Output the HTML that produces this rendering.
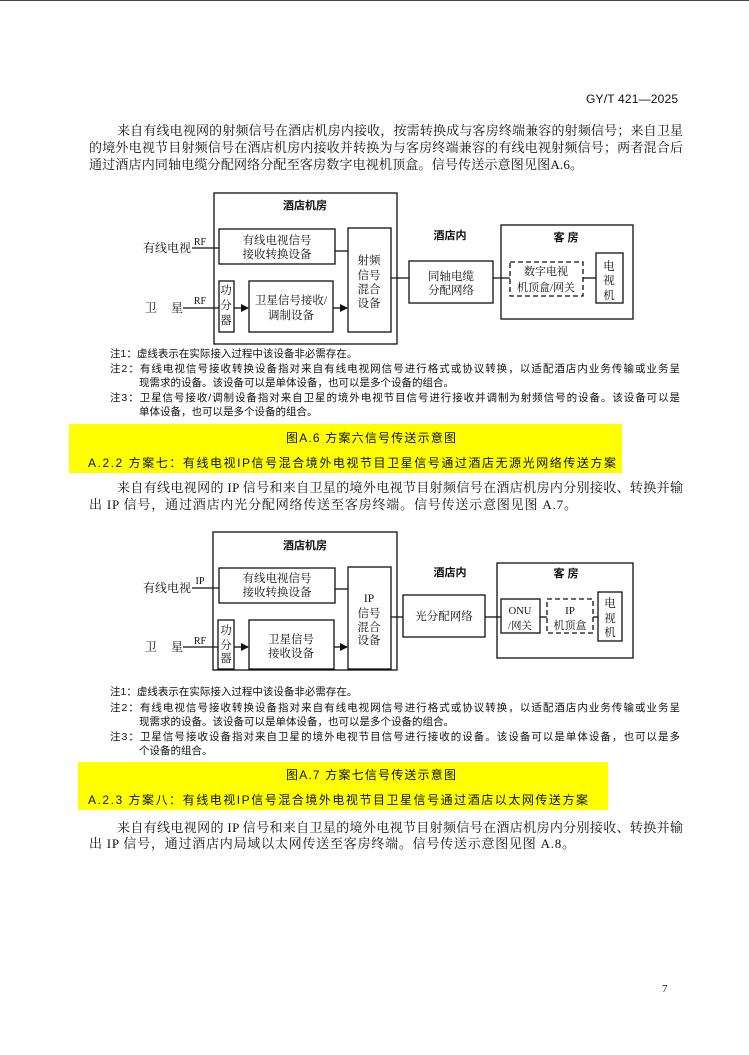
<!DOCTYPE html>
<html><head><meta charset="utf-8"><style>
html,body{margin:0;padding:0;background:#fff;}
svg{display:block;}
.s{font-family:"Liberation Serif","Noto Serif CJK SC",serif;fill:#111;}
.h{font-family:"Liberation Sans","Noto Sans CJK SC",sans-serif;fill:#111;}
.b{font-family:"Liberation Sans","Noto Sans CJK SC",sans-serif;font-weight:bold;fill:#111;}
</style></head><body>
<svg width="749" height="1055" viewBox="0 0 749 1055" xmlns="http://www.w3.org/2000/svg">
<defs><marker id="ar" markerWidth="8" markerHeight="8" refX="7" refY="4" orient="auto" markerUnits="userSpaceOnUse"><path d="M0,0 L8,4 L0,8 z" fill="#111"/></marker></defs>
<line x1="0" y1="0.5" x2="749" y2="0.5" stroke="#444" stroke-width="1"/>
<text class="h" x="586" y="103" font-size="12" textLength="92">GY/T 421—2025</text>

<g class="s" font-size="13">
<text x="117" y="135" textLength="566">来自有线电视网的射频信号在酒店机房内接收，按需转换成与客房终端兼容的射频信号；来自卫星</text>
<text x="89" y="152" textLength="594">的境外电视节目射频信号在酒店机房内接收并转换为与客房终端兼容的有线电视射频信号；两者混合后</text>
<text x="89" y="169" textLength="494">通过酒店内同轴电缆分配网络分配至客房数字电视机顶盒。信号传送示意图见图A.6。</text>
</g>

<!-- Diagram 1 -->
<g fill="none" stroke="#111" stroke-width="1.3">
<rect x="214" y="193" width="183" height="151"/>
<rect x="219" y="229" width="116" height="35"/>
<rect x="348" y="228" width="43" height="104"/>
<rect x="219" y="281" width="15" height="51"/>
<rect x="249" y="281" width="84" height="51"/>
<rect x="409" y="261" width="84" height="42"/>
<rect x="501" y="225" width="132" height="94"/>
<rect x="510" y="262" width="73" height="34" stroke-dasharray="5,3"/>
<rect x="596" y="253" width="27" height="50"/>
<line x1="192" y1="248" x2="219" y2="248"/>
<line x1="183" y1="308" x2="219" y2="308"/>
<line x1="234" y1="308" x2="248" y2="308" marker-end="url(#ar)"/>
<line x1="333" y1="308" x2="347" y2="308" marker-end="url(#ar)"/>
<line x1="335" y1="251" x2="348" y2="251"/>
<line x1="391" y1="278" x2="409" y2="278"/>
<line x1="493" y1="278" x2="510" y2="278"/>
<line x1="583" y1="278" x2="596" y2="278"/>
</g>
<g class="s" font-size="11.5" text-anchor="middle">
<text x="167" y="252" font-size="12">有线电视</text>
<text x="200" y="245" font-size="10">RF</text>
<text x="151" y="312" font-size="12">卫</text><text x="177" y="312" font-size="12">星</text>
<text x="200" y="304" font-size="10">RF</text>
<text x="277" y="244">有线电视信号</text>
<text x="277" y="258">接收转换设备</text>
<text x="369" y="264">射频</text><text x="369" y="279">信号</text><text x="369" y="293">混合</text><text x="369" y="307">设备</text>
<text x="226" y="294">功</text><text x="226" y="309">分</text><text x="226" y="324">器</text>
<text x="291" y="304">卫星信号接收/</text>
<text x="291" y="319">调制设备</text>
<text x="451" y="280">同轴电缆</text>
<text x="451" y="294">分配网络</text>
<text x="546" y="275" font-size="11">数字电视</text>
<text x="546" y="291" font-size="11">机顶盒/网关</text>
<text x="609" y="270">电</text><text x="609" y="284">视</text><text x="609" y="299">机</text>
</g>
<g class="b" font-size="11" text-anchor="middle">
<text x="305" y="209">酒店机房</text>
<text x="450" y="239">酒店内</text>
<text x="566" y="241">客 房</text>
</g>

<g class="h" font-size="10.5">
<text x="110" y="357">注1：虚线表示在实际接入过程中该设备非必需存在。</text>
<text x="110" y="372" textLength="570">注2：有线电视信号接收转换设备指对来自有线电视网信号进行格式或协议转换，以适配酒店内业务传输或业务呈</text>
<text x="139" y="386">现需求的设备。该设备可以是单体设备，也可以是多个设备的组合。</text>
<text x="110" y="401" textLength="570">注3：卫星信号接收/调制设备指对来自卫星的境外电视节目信号进行接收并调制为射频信号的设备。该设备可以是</text>
<text x="139" y="415">单体设备，也可以是多个设备的组合。</text>
</g>

<rect x="69" y="424" width="553" height="49" fill="#ffff00"/>
<text class="h" x="286" y="442" font-size="12" textLength="170">图A.6  方案六信号传送示意图</text>
<text class="h" x="88" y="467" font-size="12" textLength="528">A.2.2  方案七：有线电视IP信号混合境外电视节目卫星信号通过酒店无源光网络传送方案</text>

<g class="s" font-size="13">
<text x="117" y="492" textLength="566">来自有线电视网的 IP 信号和来自卫星的境外电视节目射频信号在酒店机房内分别接收、转换并输</text>
<text x="89" y="509" textLength="488">出 IP 信号，通过酒店内光分配网络传送至客房终端。信号传送示意图见图 A.7。</text>
</g>

<!-- Diagram 2 -->
<g fill="none" stroke="#111" stroke-width="1.3">
<rect x="213" y="532" width="184" height="138"/>
<rect x="219" y="568" width="116" height="35"/>
<rect x="348" y="567" width="43" height="102"/>
<rect x="218" y="620" width="16" height="49"/>
<rect x="249" y="620" width="85" height="49"/>
<rect x="403" y="595" width="82" height="42"/>
<rect x="497" y="563" width="136" height="95"/>
<rect x="501" y="599" width="39" height="34"/>
<rect x="547" y="599" width="46" height="34" stroke-dasharray="5,3"/>
<rect x="598" y="592" width="24" height="49"/>
<line x1="192" y1="588" x2="219" y2="588"/>
<line x1="183" y1="647" x2="218" y2="647"/>
<line x1="234" y1="647" x2="248" y2="647" marker-end="url(#ar)"/>
<line x1="334" y1="647" x2="347" y2="647" marker-end="url(#ar)"/>
<line x1="335" y1="589" x2="348" y2="589"/>
<line x1="391" y1="617" x2="403" y2="617"/>
<line x1="485" y1="617" x2="501" y2="617"/>
<line x1="540" y1="617" x2="547" y2="617"/>
<line x1="593" y1="617" x2="598" y2="617"/>
</g>
<g class="s" font-size="11.5" text-anchor="middle">
<text x="167" y="592" font-size="12">有线电视</text>
<text x="200" y="584" font-size="10">IP</text>
<text x="151" y="651" font-size="12">卫</text><text x="177" y="651" font-size="12">星</text>
<text x="200" y="644" font-size="10">RF</text>
<text x="277" y="582">有线电视信号</text>
<text x="277" y="596">接收转换设备</text>
<text x="369" y="602">IP</text><text x="369" y="617">信号</text><text x="369" y="631">混合</text><text x="369" y="644">设备</text>
<text x="226" y="634">功</text><text x="226" y="649">分</text><text x="226" y="662">器</text>
<text x="291" y="643">卫星信号</text>
<text x="291" y="657">接收设备</text>
<text x="444" y="620">光分配网络</text>
<text x="520" y="614" font-size="10.5">ONU</text>
<text x="520" y="629" font-size="10.5">/网关</text>
<text x="570" y="614" font-size="11">IP</text>
<text x="570" y="629" font-size="11">机顶盒</text>
<text x="610" y="607">电</text><text x="610" y="622">视</text><text x="610" y="636">机</text>
</g>
<g class="b" font-size="11" text-anchor="middle">
<text x="305" y="549">酒店机房</text>
<text x="450" y="576">酒店内</text>
<text x="566" y="577">客 房</text>
</g>

<g class="h" font-size="10.5">
<text x="110" y="695">注1：虚线表示在实际接入过程中该设备非必需存在。</text>
<text x="110" y="711" textLength="570">注2：有线电视信号接收转换设备指对来自有线电视网信号进行格式或协议转换，以适配酒店内业务传输或业务呈</text>
<text x="139" y="725">现需求的设备。该设备可以是单体设备，也可以是多个设备的组合。</text>
<text x="110" y="740" textLength="570">注3：卫星信号接收设备指对来自卫星的境外电视节目信号进行接收的设备。该设备可以是单体设备，也可以是多</text>
<text x="139" y="754">个设备的组合。</text>
</g>

<rect x="78" y="762" width="530" height="48" fill="#ffff00"/>
<text class="h" x="286" y="779" font-size="12" textLength="170">图A.7  方案七信号传送示意图</text>
<text class="h" x="88" y="804" font-size="12" textLength="500">A.2.3  方案八：有线电视IP信号混合境外电视节目卫星信号通过酒店以太网传送方案</text>

<g class="s" font-size="13">
<text x="117" y="832" textLength="566">来自有线电视网的 IP 信号和来自卫星的境外电视节目射频信号在酒店机房内分别接收、转换并输</text>
<text x="89" y="848" textLength="486">出 IP 信号，通过酒店内局域以太网传送至客房终端。信号传送示意图见图 A.8。</text>
</g>

<text class="s" x="662" y="992" font-size="11">7</text>
</svg>
</body></html>
